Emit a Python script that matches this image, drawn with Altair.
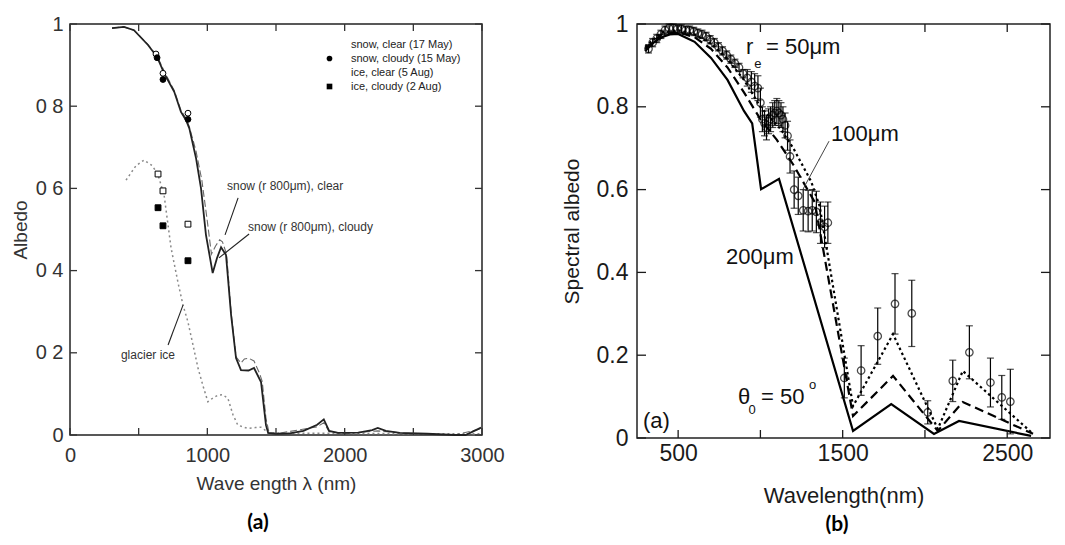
import altair as alt
import pandas as pd

FONT = "Liberation Sans"

# ---------------- Panel (a): measured albedo of snow and glacier ice ----------------
a_clear_w = [306, 393, 466, 568, 634, 686, 759, 808, 845, 869, 918, 960, 1000, 1030, 1060, 1090, 1110, 1140, 1173, 1209,
             1245, 1270, 1300, 1340, 1380, 1400, 1427, 1450, 1500, 1800, 1848, 1887, 2000, 2241, 2500, 2800, 2993]
a_clear_v = [0.990, 0.993, 0.985, 0.950, 0.922, 0.885, 0.838, 0.790, 0.770, 0.750, 0.690, 0.620, 0.520, 0.440, 0.460, 0.475, 0.470, 0.440, 0.300, 0.190,
             0.175, 0.185, 0.187, 0.180, 0.150, 0.130, 0.040, 0.005, 0.003, 0.020, 0.030, 0.008, 0.004, 0.010, 0.003, 0.000, 0.015]

a_cloudy_w = [306, 393, 466, 568, 634, 686, 759, 808, 845, 869, 918, 954, 990, 1039, 1070, 1100, 1136, 1173, 1209, 1245,
              1300, 1340, 1391, 1427, 1443, 1500, 1600, 1700, 1800, 1848, 1887, 1950, 2100, 2200, 2241, 2300, 2400, 2600, 2800, 2880, 2993]
a_cloudy_v = [0.990, 0.993, 0.985, 0.949, 0.920, 0.880, 0.835, 0.786, 0.766, 0.746, 0.673, 0.600, 0.487, 0.394, 0.430, 0.457, 0.438, 0.292, 0.187, 0.158,
              0.157, 0.163, 0.129, 0.024, 0.005, 0.003, 0.004, 0.010, 0.025, 0.038, 0.010, 0.005, 0.006, 0.012, 0.017, 0.010, 0.005, 0.003, 0.000, 0.000, 0.018]

a_ice_w = [408, 480, 539, 600, 641, 685, 736, 787, 823, 859, 895, 932, 968, 1004, 1040, 1077, 1113, 1150, 1186, 1222,
           1294, 1350, 1391, 1420, 1442, 1600, 2000, 2500, 3000]
a_ice_v = [0.620, 0.655, 0.669, 0.655, 0.633, 0.584, 0.455, 0.370, 0.316, 0.275, 0.220, 0.163, 0.120, 0.081, 0.090, 0.097, 0.098, 0.089, 0.050, 0.024,
           0.016, 0.018, 0.019, 0.012, 0.005, 0.004, 0.004, 0.003, 0.003]

a_series = ["snow, clear (17 May)", "snow, cloudy (15 May)", "ice, clear (5 Aug)", "ice, cloudy (2 Aug)"]
a_snow_clear_w = [626, 677, 859]
a_snow_clear_v = [0.927, 0.880, 0.783]
a_snow_cloudy_w = [634, 677, 859]
a_snow_cloudy_v = [0.918, 0.865, 0.768]
a_ice_clear_w = [641, 677, 859]
a_ice_clear_v = [0.635, 0.594, 0.513]
a_ice_cloudy_w = [641, 677, 859]
a_ice_cloudy_v = [0.553, 0.509, 0.424]

a_xtick_labels = [0, 1000, 2000, 3000]
a_xticks = [0, 500, 1000, 1500, 2000, 2500, 3000]
a_yticks = [0, 0.2, 0.4, 0.6, 0.8, 1.0]

a_notes = ["snow (r  800\u03bcm), clear", "snow (r  800\u03bcm), cloudy", "glacier ice"]
a_notes_w = [1143, 1296, 371]
a_notes_v = [0.606, 0.506, 0.195]
a_lead_w1 = [1224, 1304, 823]
a_lead_v1 = [0.577, 0.489, 0.316]
a_lead_w2 = [1129, 1085, 714]
a_lead_v2 = [0.487, 0.431, 0.219]

# ---------------- Panel (b): modelled vs observed spectral albedo ----------------
b_50_w = [300, 400, 500, 600, 700, 800, 900, 1000, 1125, 1200, 1308, 1360, 1563, 1806, 2078, 2230, 2657]
b_50_v = [0.945, 0.980, 0.985, 0.975, 0.952, 0.915, 0.865, 0.800, 0.745, 0.700, 0.620, 0.560, 0.077, 0.251, 0.022, 0.162, 0.010]
b_100_w = [300, 400, 500, 600, 700, 800, 900, 1000, 1100, 1200, 1330, 1563, 1806, 2078, 2230, 2657]
b_100_v = [0.940, 0.975, 0.980, 0.968, 0.940, 0.895, 0.835, 0.770, 0.720, 0.660, 0.570, 0.053, 0.150, 0.017, 0.087, 0.010]
b_200_w = [300, 350, 400, 450, 500, 600, 700, 800, 900, 950, 1004, 1113, 1563, 1795, 2055, 2207, 2645]
b_200_v = [0.935, 0.955, 0.968, 0.975, 0.976, 0.957, 0.918, 0.865, 0.790, 0.760, 0.601, 0.626, 0.017, 0.082, 0.010, 0.041, 0.005]

b_obs_w = [320, 345, 370, 395, 420, 445, 470, 495, 520, 545, 570, 595,
           620, 645, 670, 695, 720, 745, 770, 795, 820, 845, 870, 895,
           920, 945, 965, 985, 1000,
           1012, 1025, 1037, 1050, 1062, 1075, 1087, 1100, 1112, 1125,
           1137, 1150, 1165, 1180, 1205, 1230, 1260, 1290, 1315, 1340,
           1365, 1390, 1410,
           1510, 1612, 1713, 1818, 1920, 2017, 2169, 2270, 2398, 2467, 2519]
b_obs_v = [0.940, 0.955, 0.965, 0.975, 0.985, 0.990, 0.990, 0.988, 0.988, 0.985, 0.985, 0.982,
           0.978, 0.975, 0.970, 0.962, 0.955, 0.945, 0.935, 0.925, 0.915, 0.905, 0.895, 0.880,
           0.870, 0.860, 0.850, 0.845, 0.810,
           0.770, 0.760, 0.750, 0.765, 0.770, 0.780, 0.785, 0.790, 0.785, 0.780,
           0.770, 0.755, 0.730, 0.680, 0.600, 0.585, 0.550, 0.548, 0.550, 0.546,
           0.520, 0.510, 0.520,
           0.145, 0.163, 0.246, 0.324, 0.301, 0.062, 0.138, 0.207, 0.134, 0.098, 0.088]
b_obs_err = [0.010, 0.010, 0.010, 0.010, 0.010, 0.010, 0.010, 0.010, 0.010, 0.010, 0.010, 0.010,
             0.010, 0.010, 0.010, 0.010, 0.010, 0.010, 0.010, 0.010, 0.010, 0.010, 0.010, 0.010,
             0.020, 0.025, 0.030, 0.030, 0.035,
             0.030, 0.030, 0.030, 0.030, 0.030, 0.030, 0.030, 0.030, 0.030, 0.030,
             0.030, 0.030, 0.035, 0.040, 0.045, 0.045, 0.050, 0.050, 0.050, 0.050,
             0.050, 0.050, 0.050,
             0.048, 0.060, 0.068, 0.073, 0.080, 0.028, 0.050, 0.064, 0.059, 0.053, 0.078]

b_xtick_labels = [500, 1500, 2500]
b_xticks = [500, 1000, 1500, 2000, 2500]
b_yticks = [0, 0.2, 0.4, 0.6, 0.8, 1.0]

b_big_notes = ["r", "= 50\u03bcm", "100\u03bcm", "200\u03bcm", "\u03b8", "= 50", "(a)"]
b_big_w = [913, 1034, 1429, 791, 864, 1004, 286]
b_big_v = [0.944, 0.944, 0.734, 0.437, 0.099, 0.099, 0.041]
b_small_notes = ["e", "0", "o"]
b_small_w = [962, 928, 1296]
b_small_v = [0.903, 0.068, 0.128]
b_lead = [1417, 0.717, 1259, 0.601]

# ---------------- layout ----------------
WA, HA = 412, 411
WB, HB = 413, 414
AX_A = "#333333"
AX_B = "#1a1a1a"

xa = alt.Scale(domain=[0, 3000], nice=False, zero=False)
ya = alt.Scale(domain=[0, 1], nice=False)
xb = alt.Scale(domain=[250, 2760], nice=False, zero=False)
yb = alt.Scale(domain=[0, 1], nice=False)


def df(**cols):
    return pd.DataFrame(cols)


# ---- Panel (a)
ax_a_x = alt.Axis(values=a_xtick_labels, format="d", labelFlush=False, ticks=False, tickSize=0,
                  domain=False, grid=False,
                  labelFont=FONT, labelFontSize=20, labelColor=AX_A, labelPadding=10,
                  title="Wave ength \u03bb (nm)", titleFont=FONT, titleFontSize=19,
                  titleFontWeight="normal", titleColor=AX_A, titlePadding=9)
ax_a_y = alt.Axis(values=a_yticks, ticks=False, tickSize=0, domain=False, grid=False, labelFlush=False,
                  labelFont=FONT, labelFontSize=20, labelColor=AX_A, labelPadding=7,
                  labelExpr="datum.value == 0 ? '0' : datum.value == 1 ? '1' : replace(format(datum.value, '.1f'), '.', ' ')",
                  title="Albedo", titleFont=FONT, titleFontSize=19, titleFontWeight="normal",
                  titleColor=AX_A, titlePadding=5)


def XA(f):
    return alt.X(f"{f}:Q", scale=xa, axis=ax_a_x)


def YA(f):
    return alt.Y(f"{f}:Q", scale=ya, axis=ax_a_y)


a_lines = [
    alt.Chart(df(w=a_ice_w, v=a_ice_v)).mark_line(
        color="#8a8a8a", strokeWidth=1.5, strokeDash=[2, 3]).encode(x=XA("w"), y=YA("v")),
    alt.Chart(df(w=a_clear_w, v=a_clear_v)).mark_line(
        color="#6a6a6a", strokeWidth=1.1, strokeDash=[7, 3]).encode(x=XA("w"), y=YA("v")),
    alt.Chart(df(w=a_cloudy_w, v=a_cloudy_v)).mark_line(
        color="#222222", strokeWidth=1.8).encode(x=XA("w"), y=YA("v")),
]

pts = pd.concat([
    df(w=a_snow_clear_w, v=a_snow_clear_v, s=[a_series[0]] * 3),
    df(w=a_snow_cloudy_w, v=a_snow_cloudy_v, s=[a_series[1]] * 3),
    df(w=a_ice_clear_w, v=a_ice_clear_v, s=[a_series[2]] * 3),
    df(w=a_ice_cloudy_w, v=a_ice_cloudy_v, s=[a_series[3]] * 3),
])
leg = alt.Legend(title=None, orient="none", legendX=254, legendY=15, padding=0,
                 labelFont=FONT, labelFontSize=11, labelColor="#222222", labelFontWeight="normal",
                 symbolSize=32, symbolStrokeColor="black", symbolStrokeWidth=1,
                 rowPadding=2, labelOffset=16)
a_points = alt.Chart(pts).mark_point(stroke="black", strokeWidth=1, size=34, opacity=1, fillOpacity=1).encode(
    x=XA("w"), y=YA("v"),
    shape=alt.Shape("s:N", scale=alt.Scale(domain=a_series, range=["circle", "circle", "square", "square"]), legend=leg),
    fill=alt.Fill("s:N", scale=alt.Scale(domain=a_series, range=["white", "black", "white", "black"]), legend=leg),
)

a_text = alt.Chart(df(t=a_notes, w=a_notes_w, v=a_notes_v)).mark_text(
    align="left", baseline="middle", font=FONT, fontSize=12, color="#333333").encode(
    x=XA("w"), y=YA("v"), text="t:N")
a_lead = alt.Chart(df(w1=a_lead_w1, v1=a_lead_v1, w2=a_lead_w2, v2=a_lead_v2)).mark_rule(
    color="#222222", strokeWidth=1.1).encode(x=XA("w1"), y=YA("v1"), x2="w2:Q", y2="v2:Q")

a_ticks = [
    alt.Chart(df(t=a_xticks)).mark_rule(color=AX_A, strokeWidth=1.3).encode(
        x=XA("t"), y=alt.value(HA), y2=alt.value(HA - 7)),
    alt.Chart(df(t=a_xticks)).mark_rule(color=AX_A, strokeWidth=1.3).encode(
        x=XA("t"), y=alt.value(0), y2=alt.value(7)),
    alt.Chart(df(t=a_yticks)).mark_rule(color=AX_A, strokeWidth=1.3).encode(
        y=YA("t"), x=alt.value(0), x2=alt.value(7)),
    alt.Chart(df(t=a_yticks)).mark_rule(color=AX_A, strokeWidth=1.3).encode(
        y=YA("t"), x=alt.value(WA), x2=alt.value(WA - 7)),
]
a_caption = alt.Chart(df(t=["(a)"])).mark_text(
    font="Lato", fontSize=21, fontWeight="bold", color="black", align="center", baseline="middle").encode(
    x=alt.value(188), y=alt.value(499), text="t:N")

panel_a = alt.layer(*a_lines, *a_ticks, a_lead, a_text, a_points, a_caption).properties(width=WA, height=HA)

# ---- Panel (b)
ax_b_x = alt.Axis(values=b_xtick_labels, format="d", labelFlush=False, ticks=False, tickSize=0,
                  domain=False, grid=False,
                  labelFont=FONT, labelFontSize=23, labelColor=AX_B, labelPadding=4,
                  title="Wavelength(nm)", titleFont=FONT, titleFontSize=22,
                  titleFontWeight="normal", titleColor=AX_B, titlePadding=20)
ax_b_y = alt.Axis(values=b_yticks, ticks=False, tickSize=0, domain=False, grid=False, labelFlush=False,
                  labelFont=FONT, labelFontSize=23, labelColor=AX_B, labelPadding=9,
                  labelExpr="datum.value == 0 ? '0' : datum.value == 1 ? '1' : format(datum.value, '.1f')",
                  title="Spectral albedo", titleFont=FONT, titleFontSize=21, titleFontWeight="normal",
                  titleColor=AX_B, titlePadding=14)


def XB(f):
    return alt.X(f"{f}:Q", scale=xb, axis=ax_b_x)


def YB(f):
    return alt.Y(f"{f}:Q", scale=yb, axis=ax_b_y)


obs = df(w=b_obs_w, v=b_obs_v, e=b_obs_err)
obs["lo"] = obs["v"] - obs["e"]
obs["hi"] = obs["v"] + obs["e"]

b_layers = [
    alt.Chart(df(w=b_200_w, v=b_200_v)).mark_line(color="black", strokeWidth=2.2).encode(x=XB("w"), y=YB("v")),
    alt.Chart(df(w=b_100_w, v=b_100_v)).mark_line(color="black", strokeWidth=2.2, strokeDash=[9, 5]).encode(
        x=XB("w"), y=YB("v")),
    alt.Chart(df(w=b_50_w, v=b_50_v)).mark_line(color="black", strokeWidth=2.2, strokeDash=[2.5, 3]).encode(
        x=XB("w"), y=YB("v")),
    alt.Chart(obs).mark_rule(color="black", strokeWidth=1.2).encode(x=XB("w"), y=YB("lo"), y2="hi:Q"),
    alt.Chart(obs).mark_tick(color="black", orient="horizontal", size=7, thickness=1.2).encode(
        x=XB("w"), y=YB("lo")),
    alt.Chart(obs).mark_tick(color="black", orient="horizontal", size=7, thickness=1.2).encode(
        x=XB("w"), y=YB("hi")),
    alt.Chart(obs).mark_point(shape="circle", size=55, color="black", strokeWidth=1.3, filled=False).encode(
        x=XB("w"), y=YB("v")),
    alt.Chart(df(w1=[b_lead[0]], v1=[b_lead[1]], w2=[b_lead[2]], v2=[b_lead[3]])).mark_rule(
        color="#444444", strokeWidth=1).encode(x=XB("w1"), y=YB("v1"), x2="w2:Q", y2="v2:Q"),
    alt.Chart(df(t=b_big_notes, w=b_big_w, v=b_big_v)).mark_text(
        align="left", baseline="middle", font=FONT, fontSize=22, color="#111111").encode(
        x=XB("w"), y=YB("v"), text="t:N"),
    alt.Chart(df(t=b_small_notes, w=b_small_w, v=b_small_v)).mark_text(
        align="left", baseline="middle", font=FONT, fontSize=13, color="#111111").encode(
        x=XB("w"), y=YB("v"), text="t:N"),
    alt.Chart(df(t=b_xticks)).mark_rule(color=AX_B, strokeWidth=1.3).encode(
        x=XB("t"), y=alt.value(HB), y2=alt.value(HB - 8)),
    alt.Chart(df(t=b_xticks)).mark_rule(color=AX_B, strokeWidth=1.3).encode(
        x=XB("t"), y=alt.value(0), y2=alt.value(8)),
    alt.Chart(df(t=b_yticks)).mark_rule(color=AX_B, strokeWidth=1.3).encode(
        y=YB("t"), x=alt.value(0), x2=alt.value(9)),
    alt.Chart(df(t=b_yticks)).mark_rule(color=AX_B, strokeWidth=1.3).encode(
        y=YB("t"), x=alt.value(WB), x2=alt.value(WB - 9)),
    alt.Chart(df(t=["(b)"])).mark_text(
        font="Lato", fontSize=21, fontWeight="bold", color="black", align="center", baseline="middle").encode(
        x=alt.value(200), y=alt.value(501), text="t:N"),
]
panel_b = alt.layer(*b_layers).properties(width=WB, height=HB)

chart = alt.hconcat(panel_a, panel_b, spacing=155, bounds="flush").resolve_scale(
    x="independent", y="independent", shape="independent", fill="independent"
).properties(
    padding={"left": 10, "top": 12, "right": 5, "bottom": 5},
    background="white",
).configure_view(stroke="#222222", strokeWidth=1.5)

chart.save("out.html", embed_options={"renderer": "svg", "actions": False})
